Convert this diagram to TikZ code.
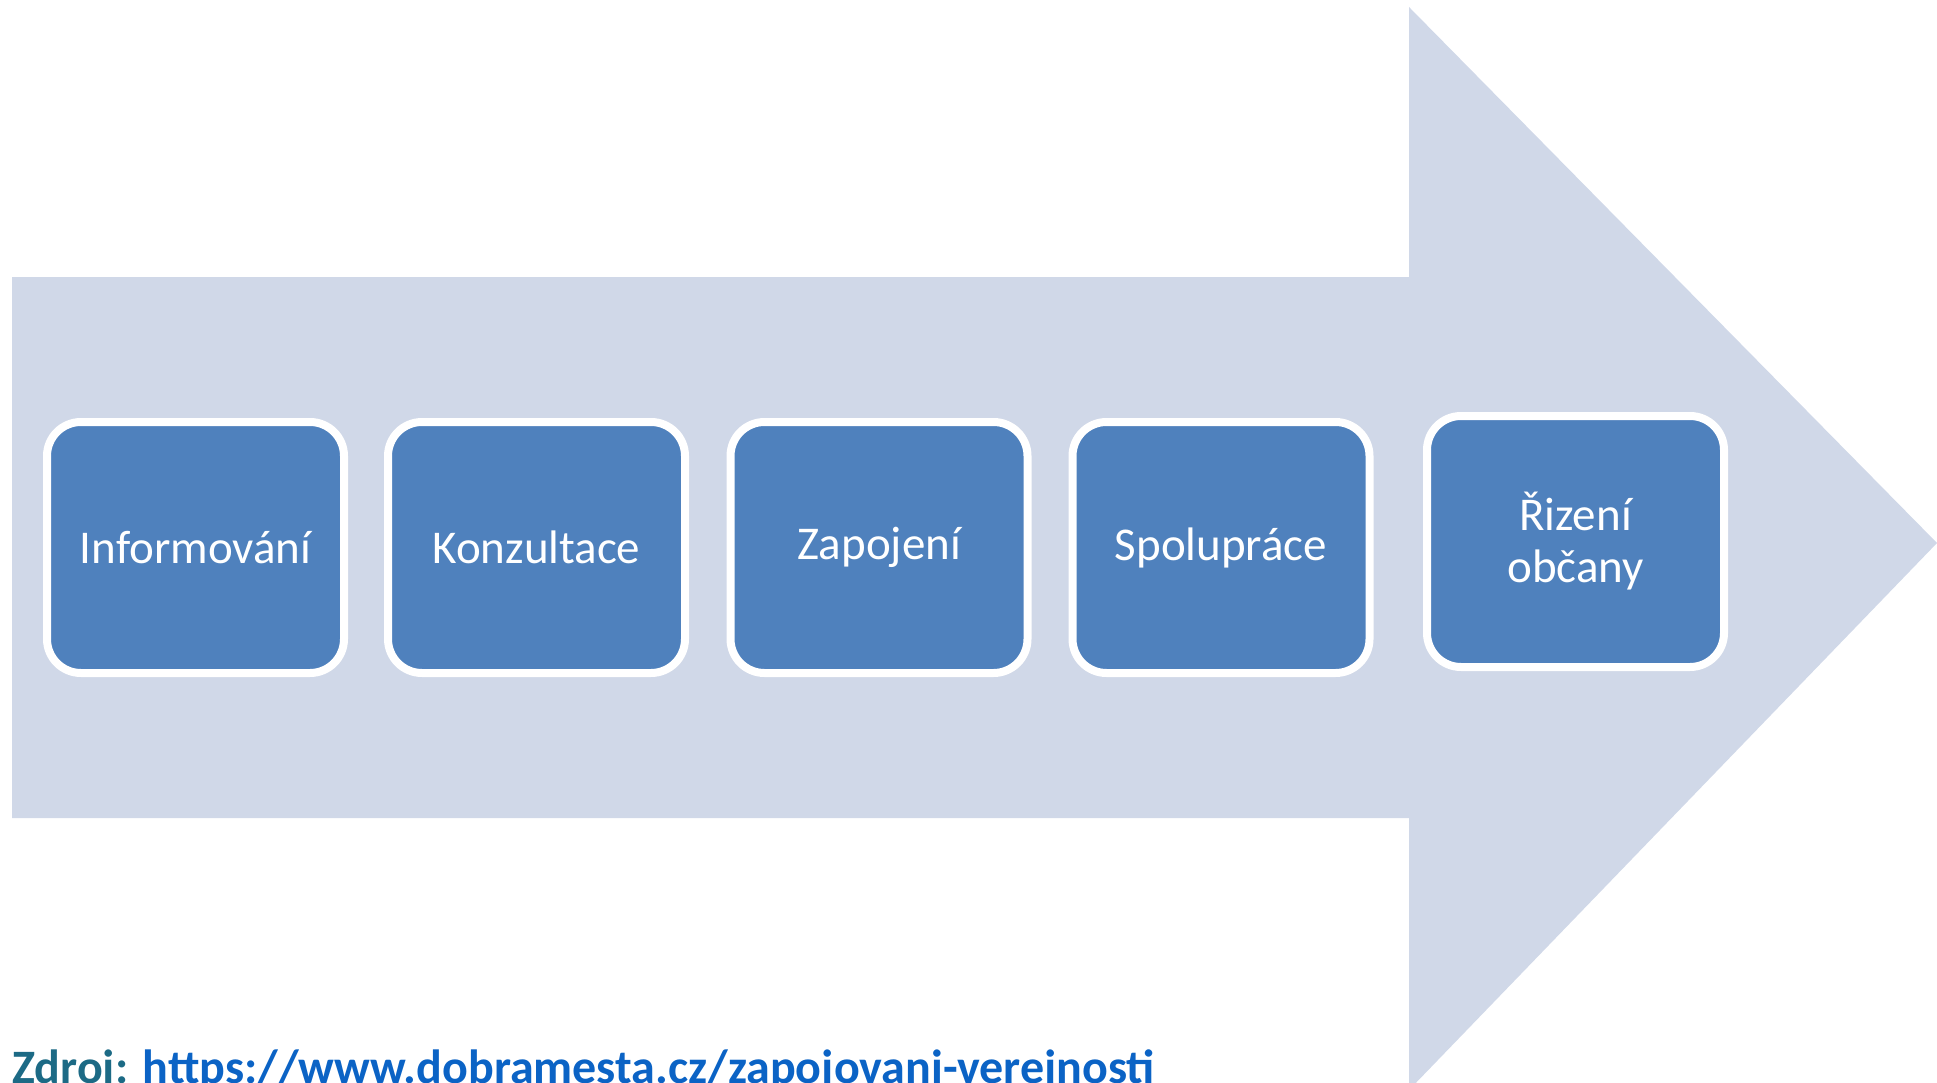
\documentclass[tikz,border=0pt]{standalone}
\usepackage{fontspec}
\setmainfont{Carlito}
\definecolor{arrowfill}{HTML}{D0D8E8}
\definecolor{boxfill}{HTML}{4F81BD}
\definecolor{srcteal}{HTML}{1C6A85}
\definecolor{srcblue}{HTML}{0B63C5}
\begin{document}
\begin{tikzpicture}[x=1pt,y=-1pt,
  stepbox/.style={draw=white, line width=8pt, fill=boxfill, rounded corners=34pt,
    minimum width=297pt, minimum height=251pt, inner sep=0pt,
    text=white, align=center, font=\fontsize{47}{52}\selectfont}]
\useasboundingbox (0,0) rectangle (1937,1083);
\fill[arrowfill] (12,277) -- (1409,277) -- (1409,7) -- (1937,543) -- (1409,1090) -- (1409,818) -- (12,818) -- cycle;
\node[stepbox] (b1) at (195.5,547.5) {Informování};
\node[stepbox] (b2) at (536.5,547.5) {Konzultace};
\node[stepbox] (b3) at (879,547.5) {Zapojení};
\node[stepbox] (b4) at (1221,547.5) {Spolupráce};
\node[stepbox] (b5) at (1575.5,541.5) {Řizení\\občany};
\node[anchor=base west, inner sep=0pt, font=\bfseries\fontsize{48}{52}\selectfont] (src) at (12,1083)
  {\textcolor{srcteal}{Zdroj:} \textcolor{srcblue}{https://www.dobramesta.cz/zapojovani-verejnosti}};
\end{tikzpicture}
\end{document}
